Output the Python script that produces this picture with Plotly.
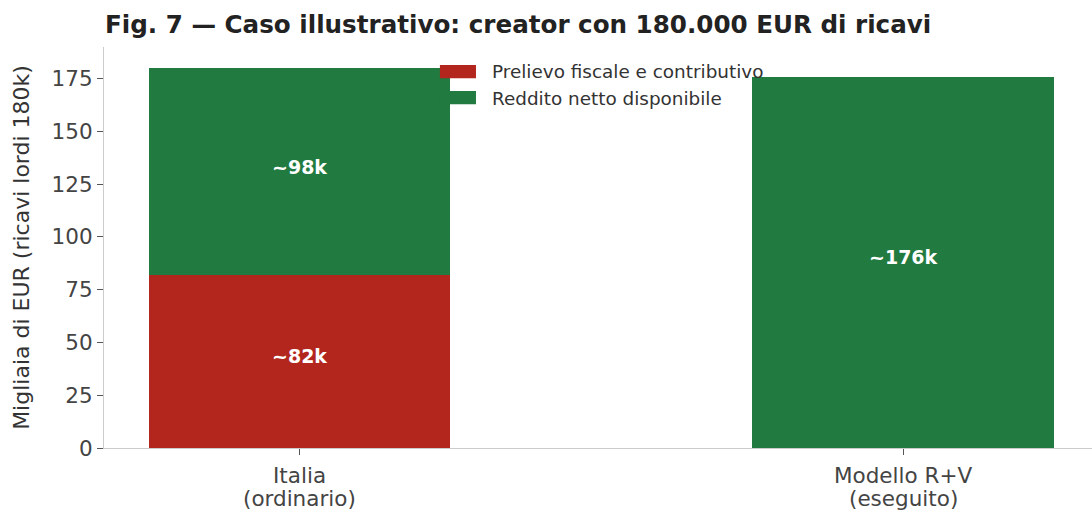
import plotly.graph_objects as go

# Caso illustrativo: ricavi lordi 180k EUR, confronto tra regime ordinario e modello R+V
categorie = ["Italia", "Modello R+V"]
sottotitoli = ["(ordinario)", "(eseguito)"]
prelievo = [82, 0]      # prelievo fiscale e contributivo (migliaia di EUR)
netto = [98, 176]       # reddito netto disponibile (migliaia di EUR)
serie_nomi = ["Prelievo fiscale e contributivo", "Reddito netto disponibile"]
y_ticks = [0, 25, 50, 75, 100, 125, 150, 175]

ROSSO = "#B3261E"
VERDE = "#217A3F"
FONT = "DejaVu Sans"
pos = list(range(len(categorie)))

fig = go.Figure()
for nome, valori, colore in [(serie_nomi[0], prelievo, ROSSO), (serie_nomi[1], netto, VERDE)]:
    fig.add_trace(go.Bar(
        x=pos, y=valori, name=nome, marker_color=colore,
        marker_line_width=0, width=0.5, hoverinfo="skip",
    ))

# Etichette al centro di ogni segmento, ricavate dai valori
for i in pos:
    base = 0
    for valori in (prelievo, netto):
        v = valori[i]
        if v > 0:
            fig.add_annotation(x=i, y=base + v / 2, text=f"<b>~{v}k</b>",
                               showarrow=False, yshift=5,
                               font=dict(family=FONT, size=19, color="white"))
        base += v

# Etichette delle categorie su due righe, con interlinea stretta
for i in pos:
    for riga, dy in ((categorie[i], -27), (sottotitoli[i], -50)):
        fig.add_annotation(x=i, xref="x", y=0, yref="paper", yanchor="middle",
                           yshift=dy, text=riga, showarrow=False,
                           font=dict(family=FONT, size=21.5, color="#444444"))

# Legenda disegnata a mano: rettangoli colorati e testo, senza riquadro
legenda = [(serie_nomi[0], ROSSO, 0.955, 0.922, 0.938),
           (serie_nomi[1], VERDE, 0.890, 0.857, 0.872)]
for nome, colore, y1, y0, yc in legenda:
    fig.add_shape(type="rect", xref="paper", yref="paper",
                  x0=0.340, x1=0.3765, y0=y0, y1=y1,
                  fillcolor=colore, line_width=0)
    fig.add_annotation(xref="paper", yref="paper", x=0.391, y=yc,
                       text=nome, showarrow=False, xanchor="left", yanchor="middle",
                       font=dict(family=FONT, size=18.4, color="#333333"))

fig.update_layout(
    barmode="stack",
    width=1092, height=512,
    margin=dict(l=104, r=0, t=47, b=64, autoexpand=False),
    paper_bgcolor="white", plot_bgcolor="white",
    showlegend=False,
    font=dict(family=FONT, color="#444444"),
    title=dict(
        text="<b>Fig. 7 — Caso illustrativo: creator con 180.000 EUR di ricavi</b>",
        x=105 / 1092, xanchor="left", y=0.952, yanchor="middle",
        font=dict(family=FONT, size=24.6, color="#222222"),
    ),
    xaxis=dict(
        range=[-0.324, 1.313], automargin=False,
        tickmode="array", tickvals=pos, showticklabels=False,
        showgrid=False, zeroline=False,
        showline=True, linecolor="#cccccc", linewidth=1.2,
        ticks="outside", ticklen=6, tickcolor="#555555", tickwidth=1.2,
    ),
    yaxis=dict(
        range=[0, 190], automargin=False,
        tickmode="array", tickvals=y_ticks,
        tickfont=dict(family=FONT, size=21.5, color="#444444"),
        showgrid=False, zeroline=False,
        showline=True, linecolor="#cccccc", linewidth=1.2,
        ticks="outside", ticklen=6, tickcolor="#555555", tickwidth=1.2,
        title=dict(text="Migliaia di EUR (ricavi lordi 180k)",
                   font=dict(family=FONT, size=22, color="#333333"), standoff=15),
    ),
)

fig.write_html("out.html")
